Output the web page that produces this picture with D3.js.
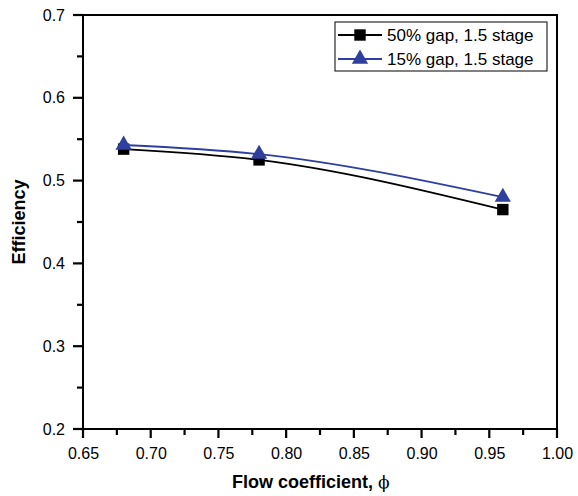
<!DOCTYPE html>
<html>
<head>
<meta charset="utf-8">
<script src="https://cdn.jsdelivr.net/npm/d3@7"></script>
<style>
  body { margin: 0; background: #fff; }
  svg { font-family: "Liberation Sans", Arial, sans-serif; }
</style>
</head>
<body>
<div id="chart"></div>
<script>
const flowCoeff = [0.68, 0.78, 0.96];
const gap50 = [0.538, 0.525, 0.465];
const gap15 = [0.543, 0.532, 0.480];
const seriesNames = ['50% gap, 1.5 stage', '15% gap, 1.5 stage'];
const xTicks = [0.65, 0.70, 0.75, 0.80, 0.85, 0.90, 0.95, 1.00];
const yTicks = [0.2, 0.3, 0.4, 0.5, 0.6, 0.7];
const xMinor = [0.675, 0.725, 0.775, 0.825, 0.875, 0.925, 0.975];
const yMinor = [0.25, 0.35, 0.45, 0.55, 0.65];

const width = 578, height = 496;
const margin = {top: 15, right: 21, bottom: 67, left: 83};
const w = width - margin.left - margin.right;
const h = height - margin.top - margin.bottom;

const svg = d3.select('#chart').append('svg')
  .attr('width', width)
  .attr('height', height);

const g = svg.append('g')
  .attr('transform', 'translate(' + margin.left + ',' + margin.top + ')');

const x = d3.scaleLinear().domain([0.65, 1.0]).range([0, w]);
const y = d3.scaleLinear().domain([0.2, 0.7]).range([h, 0]);

// tick marks as thin filled rects, outside the frame
function xTickMarks(vals, len) {
  g.append('g').selectAll('rect')
    .data(vals)
    .join('rect')
    .attr('x', d => x(d) - 1.1).attr('y', h)
    .attr('width', 2.2).attr('height', len)
    .attr('fill', '#000');
}
function yTickMarks(vals, len) {
  g.append('g').selectAll('rect')
    .data(vals)
    .join('rect')
    .attr('x', -len).attr('y', d => y(d) - 1.1)
    .attr('width', len).attr('height', 2.2)
    .attr('fill', '#000');
}
xTickMarks(xMinor, 6);
xTickMarks(xTicks, 9);
yTickMarks(yMinor, 6);
yTickMarks(yTicks, 10);

// tick labels via d3 axes
const xAxis = g.append('g')
  .attr('transform', 'translate(0,' + h + ')')
  .call(d3.axisBottom(x).tickValues(xTicks).tickSize(8).tickPadding(11).tickFormat(d3.format('.2f')));
xAxis.select('.domain').remove();
xAxis.selectAll('line').remove();
xAxis.selectAll('text').attr('font-size', 16).attr('fill', '#000');

const yAxis = g.append('g')
  .call(d3.axisLeft(y).tickValues(yTicks).tickSize(9).tickPadding(9).tickFormat(d3.format('.1f')));
yAxis.select('.domain').remove();
yAxis.selectAll('line').remove();
yAxis.selectAll('text').attr('font-size', 16).attr('fill', '#000');

// frame
g.append('rect')
  .attr('width', w).attr('height', h)
  .attr('fill', 'none').attr('stroke', '#000').attr('stroke-width', 2);

const line = d3.line()
  .x(d => x(d[0]))
  .y(d => y(d[1]))
  .curve(d3.curveMonotoneX);

const series = [
  {name: seriesNames[0], values: gap50, color: '#000000', symbol: d3.symbolSquare, size: 130},
  {name: seriesNames[1], values: gap15, color: '#2E3F9E', symbol: d3.symbolTriangle, size: 115}
];

series.forEach(s => {
  const pts = flowCoeff.map((f, i) => [f, s.values[i]]);
  g.append('path')
    .datum(pts)
    .attr('d', line)
    .attr('fill', 'none')
    .attr('stroke', s.color)
    .attr('stroke-width', 1.8);
  g.selectAll(null)
    .data(pts)
    .enter()
    .append('path')
    .attr('d', d3.symbol().type(s.symbol).size(s.size))
    .attr('transform', d => 'translate(' + x(d[0]) + ',' + y(d[1]) + ')')
    .attr('fill', s.color);
});

// legend
const legend = g.append('g').attr('transform', 'translate(' + (w - 222) + ',7)');
legend.append('rect')
  .attr('width', 212).attr('height', 49)
  .attr('fill', '#fff').attr('stroke', '#000').attr('stroke-width', 1);
series.forEach((s, i) => {
  const ly = 13 + i * 24;
  legend.append('line')
    .attr('x1', 3).attr('x2', 47).attr('y1', ly).attr('y2', ly)
    .attr('stroke', s.color).attr('stroke-width', 1.8);
  legend.append('path')
    .attr('d', d3.symbol().type(s.symbol).size(s.size))
    .attr('transform', 'translate(25,' + ly + ')')
    .attr('fill', s.color);
  legend.append('text')
    .attr('x', 52).attr('y', ly + 6)
    .attr('font-size', 17)
    .text(s.name);
});

// axis titles
const xTitle = svg.append('text')
  .attr('x', 232)
  .attr('y', 488)
  .attr('font-size', 18)
  .attr('font-weight', 'bold')
  .text('Flow coefficient, ');
xTitle.append('tspan')
  .attr('font-family', '"DejaVu Serif", "Liberation Serif", serif')
  .attr('font-weight', 'normal')
  .attr('font-size', 17)
  .text('\u03D5');

svg.append('text')
  .attr('transform', 'translate(25,' + (margin.top + h / 2) + ') rotate(-90)')
  .attr('text-anchor', 'middle')
  .attr('font-size', 18)
  .attr('font-weight', 'bold')
  .text('Efficiency');
</script>
</body>
</html>
